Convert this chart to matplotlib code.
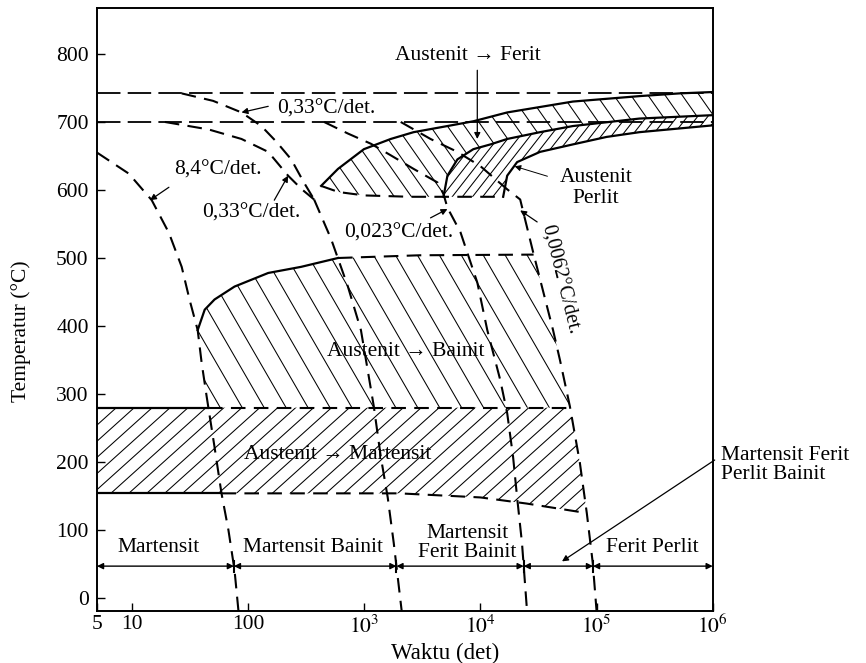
import numpy as np
import matplotlib
matplotlib.use('Agg')
import matplotlib.pyplot as plt
from matplotlib.collections import LineCollection
from matplotlib.patches import Polygon

plt.rcParams['font.family'] = ['Liberation Serif', 'DejaVu Serif']
plt.rcParams['mathtext.fontset'] = 'stix'

# ---------------- data (time in s, temperature in °C) ----------------
A3_T = 742
A1_T = 700
Ms_T = 280

# cooling curves
cA_t = [5, 9.4, 14.8, 20.8, 26.8, 31.4, 36.8, 39.8, 44, 51.4, 59, 67.7, 76.4, 82.6]
cA_T = [655, 624, 585, 537, 487, 438, 394, 346, 296, 222, 154, 100, 41, -19]

cBu_t = [26.8, 50, 87.7, 130, 175, 235, 300, 370]
cBu_T = [742, 731, 714, 694, 671, 645, 612, 586]
cBl_t = [19.2, 45.7, 87.7, 149, 221, 290, 370]
cBl_T = [700, 689, 675, 656, 621, 601, 586]
cB_t = [370, 518, 723, 936, 1208, 1387, 1592, 1794, 2100]
cB_T = [586, 528, 458, 394, 282, 208, 148, 81, -19]

cC_t = [451, 723, 1140, 1690, 2660, 4275, 4810, 5200, 6730, 9400, 11460, 14800, 17000, 19100, 20700, 22800, 25200]
cC_T = [700, 683, 668, 651, 631, 611, 594, 574, 538, 464, 394, 321, 272, 208, 148, 81, -19]

cD_t = [2060, 3720, 6340, 10000, 17000, 22000, 28400, 42200, 48400, 58900, 71800, 82400, 92700, 100000]
cD_T = [700, 675, 656, 635, 601, 586, 509, 394, 350, 282, 199, 125, 52, -19]

# transformation boundaries
Fs_t = [425, 594, 993, 1690, 2660, 5200, 8690, 17000, 32600, 62500, 234000, 516000, 1e6]
Fs_T = [606, 631, 660, 675, 685, 694, 701, 714, 722, 730, 738, 742, 744]
Ps_t = [4810, 5200, 6340, 8690, 12200, 17000, 32600, 62500, 234000, 1e6]
Ps_T = [590, 621, 645, 660, 667, 675, 685, 694, 705, 710]
Pf_t = [15700, 17000, 20700, 32600, 62500, 122000, 234000, 1e6]
Pf_T = [590, 621, 641, 656, 667, 678, 685, 695]
Nb_t = [425, 600, 1000, 2500, 4810, 10000, 15700]
Nb_T = [606, 597, 592, 590, 590, 590, 590]

Bs_t = [36.8, 42.3, 51.4, 76.4, 149, 286, 594]
Bs_T = [394, 424, 439, 458, 478, 487, 500]
Bd_t = [594, 3000, 28700]
Bd_T = [500, 504, 505]

Mf_t = [5, 2000, 10000, 25000, 82400]
Mf_T = [154, 154, 148, 139, 125]

y_ticks = [0, 100, 200, 300, 400, 500, 600, 700, 800]
x_ticks = [5, 10, 100, 1e3, 1e4, 1e5, 1e6]
x_ticklabels = ['5', '10', '100', '$10^3$', '$10^4$', '$10^5$', '$10^6$']

# ---------------- helpers ----------------
def t_at(Tq, t, T):
    t = np.asarray(t, float); T = np.asarray(T, float)
    return 10 ** np.interp(Tq, T[::-1], np.log10(t)[::-1])

def seg(t, T, Thi, Tlo):
    t = np.asarray(t, float); T = np.asarray(T, float)
    m = (T < Thi) & (T > Tlo)
    ts = np.concatenate([[t_at(Thi, t, T)], t[m], [t_at(Tlo, t, T)]])
    Ts = np.concatenate([[Thi], T[m], [Tlo]])
    return ts, Ts

FIG_W, FIG_H = 866, 663
AX_RECT = [0.112, 0.0784, 0.711, 0.910]
W_PX = AX_RECT[2] * FIG_W
H_PX = AX_RECT[3] * FIG_H

def hatch(ax, t, T, angle, spacing, lw=0.75):
    poly = Polygon(np.column_stack([t, T]), closed=True, facecolor='none',
                   edgecolor='none', transform=ax.transData)
    ax.add_patch(poly)
    a = np.deg2rad(angle)
    d = np.array([np.cos(a), np.sin(a)])
    n = np.array([-np.sin(a), np.cos(a)])
    L = np.hypot(W_PX, H_PX)
    c = np.array([W_PX / 2, H_PX / 2])
    segs = []
    for i in range(-int(L / spacing) - 1, int(L / spacing) + 2):
        p0 = (c + n * i * spacing - d * L) / [W_PX, H_PX]
        p1 = (c + n * i * spacing + d * L) / [W_PX, H_PX]
        segs.append([p0, p1])
    lc = LineCollection(segs, colors='k', linewidths=lw, transform=ax.transAxes)
    lc.set_clip_path(poly)
    ax.add_collection(lc, autolim=False)

fig = plt.figure(figsize=(FIG_W / 100, FIG_H / 100), dpi=100)
ax = fig.add_axes(AX_RECT)
ax.set_xscale('log')
ax.set_xlim(5, 1e6)
ax.set_ylim(-19, 868)

K = 'black'
dash_kw = dict(color=K, lw=1.5, dashes=(7, 4))
long_dash = dict(color=K, lw=1.3, dashes=(13, 4))
solid_kw = dict(color=K, lw=1.6)

# ---------------- hatched regions ----------------
# bainite
dt, dT = seg(cD_t, cD_T, Bd_T[-1], Ms_T)
at, aT = seg(cA_t, cA_T, Bs_T[0], Ms_T)
poly_t = np.concatenate([Bs_t, Bd_t[1:], dt[1:], at[::-1][:-1]])
poly_T = np.concatenate([Bs_T, Bd_T[1:], dT[1:], aT[::-1][:-1]])
hatch(ax, poly_t, poly_T, -60, 19)

# martensite
dt2, dT2 = seg(cD_t, cD_T, Ms_T, Mf_T[-1])
poly_t = np.concatenate([[Mf_t[0]], dt2, np.array(Mf_t[::-1])[1:]])
poly_T = np.concatenate([[Ms_T], dT2, np.array(Mf_T[::-1])[1:]])
hatch(ax, poly_t, poly_T, 42, 12)

# ferrite
Nb_t_a = np.array(Nb_t); Nb_T_a = np.array(Nb_T)
mF = Nb_t_a <= Ps_t[0]
poly_t = np.concatenate([Fs_t, Ps_t[::-1], Nb_t_a[mF][::-1]])
poly_T = np.concatenate([Fs_T, Ps_T[::-1], Nb_T_a[mF][::-1]])
hatch(ax, poly_t, poly_T, -55, 14)

# pearlite
mP = Nb_t_a >= Ps_t[0]
poly_t = np.concatenate([Ps_t, Pf_t[::-1], Nb_t_a[mP][::-1]])
poly_T = np.concatenate([Ps_T, Pf_T[::-1], Nb_T_a[mP][::-1]])
hatch(ax, poly_t, poly_T, 52, 8)

# ---------------- lines ----------------
ax.axhline(A3_T, **long_dash)
ax.axhline(A1_T, **long_dash)

for t, T in [(cA_t, cA_T), (cBu_t, cBu_T), (cBl_t, cBl_T), (cB_t, cB_T),
             (cC_t, cC_T), (cD_t, cD_T)]:
    ax.plot(t, T, **dash_kw)

ax.plot(Fs_t, Fs_T, **solid_kw)
ax.plot(Ps_t, Ps_T, **solid_kw)
ax.plot(Pf_t, Pf_T, **solid_kw)
ax.plot(Nb_t, Nb_T, **dash_kw)
ax.plot(Bs_t, Bs_T, **solid_kw)
ax.plot(Bd_t, Bd_T, **dash_kw)

tA_ms = t_at(Ms_T, cA_t, cA_T)
tD_ms = t_at(Ms_T, cD_t, cD_T)
ax.plot([5, tA_ms], [Ms_T, Ms_T], **solid_kw)
ax.plot([tA_ms, tD_ms], [Ms_T, Ms_T], **dash_kw)

tA_mf = t_at(Mf_T[0], cA_t, cA_T)
ax.plot([5, tA_mf], [Mf_T[0], Mf_T[0]], **solid_kw)
mf_t = np.array(Mf_t); mf_T = np.array(Mf_T)
m = mf_t > tA_mf
ax.plot(np.concatenate([[tA_mf], mf_t[m]]), np.concatenate([[Mf_T[0]], mf_T[m]]), **dash_kw)

# product line with arrows
prod_T = 47
cross = [t_at(prod_T, t, T) for t, T in [(cA_t, cA_T), (cB_t, cB_T), (cC_t, cC_T), (cD_t, cD_T)]]
edges = [5] + cross + [1e6]
for a, b in zip(edges[:-1], edges[1:]):
    ax.annotate('', xy=(b, prod_T), xytext=(a, prod_T),
                arrowprops=dict(arrowstyle='<|-|>', color=K, lw=1.0,
                                mutation_scale=9, shrinkA=0, shrinkB=0))
for c in cross:
    ax.plot([c, c], [prod_T - 8, prod_T + 8], color=K, lw=1.5)

# ---------------- text ----------------
fs = 15.5
arw = dict(arrowstyle='-|>', color=K, lw=0.9, mutation_scale=9, shrinkA=0, shrinkB=0)

ax.text(7730, 797, 'Austenit → Ferit', ha='center', va='center', fontsize=fs)
ax.annotate('', xy=(9400, 675), xytext=(9400, 776), arrowprops=arw)

ax.text(469, 719, '0,33°C/det.', ha='center', va='center', fontsize=fs)
ax.annotate('', xy=(87.7, 714), xytext=(149, 723), arrowprops=arw)

ax.text(107, 566, '0,33°C/det.', ha='center', va='center', fontsize=fs)
ax.annotate('', xy=(221, 621), xytext=(168, 585), arrowprops=arw)

ax.text(54.5, 629, '8,4°C/det.', ha='center', va='center', fontsize=fs)
ax.annotate('', xy=(14.3, 585), xytext=(20.8, 604), arrowprops=arw)

ax.text(1980, 537, '0,023°C/det.', ha='center', va='center', fontsize=fs)
ax.annotate('', xy=(5200, 572), xytext=(3720, 559), arrowprops=arw)

ax.text(48400, 468, '0,0062°C/det.', ha='center', va='center', fontsize=14.5, rotation=-76)
ax.annotate('', xy=(22000, 570), xytext=(30800, 553), arrowprops=arw)

ax.text(98400, 603, 'Austenit\nPerlit', ha='center', va='center', fontsize=fs, linespacing=1.1)
ax.annotate('', xy=(18700, 636), xytext=(39800, 619),
            arrowprops=dict(arrowstyle='-|>', color=K, lw=0.7, mutation_scale=9))

ax.text(2270, 362, 'Austenit → Bainit', ha='center', va='center', fontsize=fs)
ax.text(594, 211, 'Austenit → Martensit', ha='center', va='center', fontsize=fs)

ax.text(17, 75, 'Martensit', ha='center', va='center', fontsize=fs)
ax.text(363, 75, 'Martensit Bainit', ha='center', va='center', fontsize=fs)
ax.text(7730, 81, 'Martensit\nFerit Bainit', ha='center', va='center', fontsize=fs, linespacing=1.0)
ax.text(302000, 74, 'Ferit Perlit', ha='center', va='center', fontsize=fs)

ax.text(1.18e6, 195, 'Martensit Ferit\nPerlit Bainit', ha='left', va='center',
        fontsize=fs, linespacing=1.0, clip_on=False)
ax.annotate('', xy=(50400, 54), xytext=(1.04e6, 203), annotation_clip=False,
            arrowprops=dict(arrowstyle='-|>', color=K, lw=0.9, mutation_scale=9, shrinkA=0, shrinkB=0))

# ---------------- axes ----------------
ax.set_xticks(x_ticks)
ax.set_xticklabels(x_ticklabels)
ax.xaxis.set_minor_locator(matplotlib.ticker.NullLocator())
ax.set_yticks(y_ticks)
ax.tick_params(direction='in', length=6, width=1, labelsize=15.5, pad=6)
ax.tick_params(axis='x', pad=3)
for s in ax.spines.values():
    s.set_linewidth(1.4)
ax.set_xlabel('Waktu (det)', fontsize=16.5)
ax.xaxis.set_label_coords((445 - 97) / W_PX, -0.053)
ax.set_ylabel('Temperatur (°C)', fontsize=15.5)
ax.yaxis.set_label_coords(-0.107, 0.464)

fig.savefig('out.png', dpi=100)
